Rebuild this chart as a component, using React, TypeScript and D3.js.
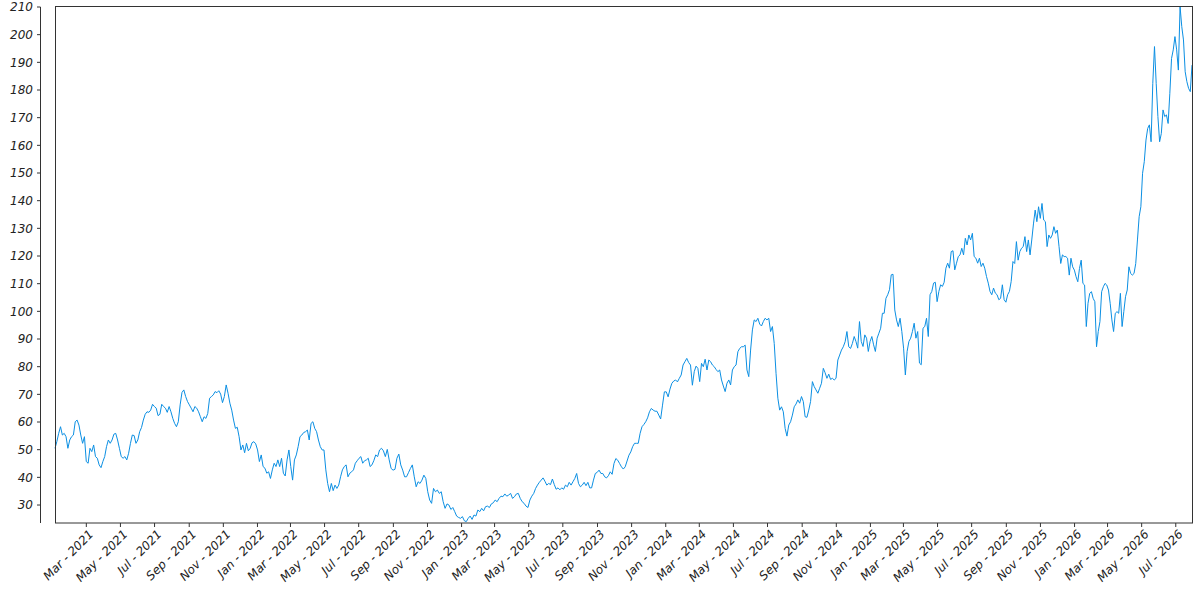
import React from "react";
import * as d3 from "d3";

// closing prices, one array per stretch of the axis
const seg1 = [50.5, 52.9, 55.9, 58.3, 55.3, 55.9, 54.7, 50.5, 53.5, 54.7, 55.3, 60.1, 60.7, 58.9, 55.3, 52.3, 54.7, 45.7, 45.1, 50.5, 49.3, 51.7, 47.5, 46.9, 44.5, 43.5, 45.7, 47.5, 51.1, 53.5, 52.3, 53.5, 55.6, 55.9, 53.5, 50.5, 47.5, 46.9, 47.5, 46.3, 48.7, 52.3, 55.3, 55.1, 52.3, 53.5, 56.5, 58.0, 60.7, 62.8, 63.7, 63.5, 64.3, 66.4, 65.6, 65.0, 62.3, 62.8, 66.4, 65.6, 65.0, 63.5, 65.6, 63.7, 61.3, 59.5, 58.3, 60.1, 66.2, 70.7, 71.6, 69.2, 67.4, 66.2, 65.0, 63.7, 65.6, 65.0, 63.7, 61.9, 60.1, 61.9, 61.3, 63.1, 68.6, 69.2];
const seg2 = [69.8, 71.0, 70.6, 71.3, 70.1, 67.0, 69.2, 73.4, 70.4, 66.8, 64.3, 60.7, 57.7, 58.1, 54.7, 49.9, 51.7, 48.9, 52.3, 49.6, 50.5, 52.5, 52.9, 52.1, 49.9, 45.7, 48.1, 43.9, 43.3, 41.5, 42.0, 39.6, 42.7, 45.1, 43.9, 46.3, 43.9, 46.9, 41.5, 40.5, 46.3, 49.9, 43.9, 39.0, 46.3, 48.1, 51.1, 54.7, 55.3, 56.2, 56.5, 57.1, 53.5, 59.5, 60.1, 57.7, 56.5, 53.5, 51.1, 49.9, 49.9, 42.7, 37.8, 34.8, 37.8, 35.2, 37.2, 36.0, 37.2, 40.2, 42.7, 43.9, 44.5, 40.2, 41.5, 42.0, 42.7, 45.1, 46.0, 46.9, 47.5, 45.1, 46.0, 46.3, 46.9, 43.9, 44.5];
const seg3 = [46.0, 48.1, 47.5, 49.9, 50.5, 49.6, 47.5, 50.1, 46.3, 43.2, 42.6, 42.9, 46.9, 48.4, 44.5, 42.6, 40.2, 40.2, 41.7, 43.2, 44.5, 40.2, 36.6, 38.4, 37.8, 39.0, 40.8, 39.6, 34.8, 31.8, 30.6, 36.0, 34.8, 35.4, 34.2, 34.8, 31.2, 28.8, 30.4, 30.0, 28.4, 29.1, 27.6, 26.0, 25.5, 25.2, 25.8, 24.3, 24.0, 25.2, 26.0, 24.8, 26.4, 26.0, 28.2, 27.6, 28.8, 27.9, 29.4, 29.6, 29.1, 30.4, 30.8, 31.8, 31.2, 32.4, 33.2, 33.0, 34.0, 33.2, 33.6, 34.2, 32.4, 33.0, 34.0, 34.2, 32.4, 31.2, 30.6, 29.6, 29.1, 31.8, 33.2];
const seg4 = [34.2, 36.0, 37.2, 38.2, 39.0, 39.8, 38.6, 37.2, 37.8, 37.4, 39.4, 37.4, 35.7, 36.2, 35.5, 36.2, 35.7, 37.2, 36.6, 38.2, 37.2, 38.4, 39.6, 41.4, 37.8, 36.6, 37.2, 38.2, 37.0, 38.2, 36.2, 36.2, 39.0, 41.4, 41.8, 42.6, 41.4, 41.4, 40.2, 39.8, 40.6, 42.0, 41.1, 45.0, 46.8, 46.2, 45.0, 43.8, 43.0, 43.8, 45.9, 48.0, 49.2, 51.1, 52.3, 52.3, 52.3, 55.9, 58.3, 59.1, 60.1, 61.5, 63.7, 64.9, 64.3, 63.9, 63.9, 62.5, 61.1, 66.1, 70.9, 70.9, 69.1, 71.9, 74.0, 74.8, 75.2, 74.5, 75.8, 77.0, 80.6, 81.8, 83.0, 81.5, 80.6, 73.3];
const seg5 = [78.2, 80.2, 79.4, 74.6, 81.2, 80.0, 82.7, 78.8, 82.4, 81.8, 80.6, 80.0, 79.0, 78.2, 78.8, 75.2, 73.0, 71.0, 74.0, 75.2, 73.4, 78.8, 80.0, 80.6, 85.4, 86.6, 87.2, 87.2, 87.8, 78.8, 76.4, 86.0, 93.3, 96.9, 96.3, 97.5, 95.4, 94.7, 96.3, 97.5, 96.9, 97.5, 92.7, 94.5, 88.4, 77.6, 68.6, 64.3, 65.5, 63.7, 57.7, 54.9, 58.9, 60.1, 62.5, 65.5, 66.5, 68.0, 66.8, 69.2, 67.4, 61.9, 61.7, 64.3, 67.4, 74.6, 72.8, 71.6, 70.4, 72.2, 74.0, 79.4, 77.8, 75.8, 77.3, 75.4, 75.8, 75.2, 75.8, 82.4, 84.2, 86.0, 87.2, 89.0, 92.7, 87.2, 86.6, 88.4];
const seg6 = [90.9, 89.1, 86.7, 96.3, 89.1, 87.3, 91.5, 90.3, 85.5, 89.1, 90.9, 87.9, 85.5, 90.3, 92.1, 93.9, 99.3, 99.3, 104.7, 106.0, 107.8, 113.2, 113.4, 100.5, 96.9, 94.5, 97.5, 92.7, 86.7, 77.0, 85.5, 89.1, 90.3, 92.7, 95.7, 90.3, 92.7, 81.3, 80.7, 93.9, 94.5, 97.5, 90.9, 106.0, 107.2, 110.2, 110.5, 103.5, 107.2, 109.6, 109.0, 110.5, 115.6, 117.4, 115.6, 121.6, 121.9, 115.0, 117.4, 119.8, 120.4, 122.8, 120.4, 126.4, 124.0, 127.6, 125.8, 128.2, 119.8, 119.2, 117.4, 119.2, 116.2, 117.4, 115.6, 112.6, 110.2, 107.2, 106.0, 108.4, 106.6, 106.0, 104.2, 104.7, 109.6, 104.2, 103.3, 106.0, 107.2, 110.8, 118.0];
const seg7 = [117.3, 125.2, 118.5, 121.6, 122.8, 123.4, 127.0, 121.6, 125.8, 120.4, 125.8, 131.6, 136.6, 132.4, 137.8, 133.6, 139.0, 133.0, 132.4, 123.4, 127.6, 126.4, 127.6, 130.6, 128.2, 129.4, 123.4, 117.3, 120.4, 119.8, 119.8, 119.2, 113.1, 119.2, 116.1, 114.9, 112.5, 110.7, 115.5, 118.5, 110.1, 109.5, 94.5, 102.9, 106.5, 107.1, 104.7, 103.5, 87.2, 92.7, 96.3, 107.1, 108.9, 110.1, 109.5, 107.7, 102.9, 96.9, 92.7, 99.3, 99.9, 99.3, 106.5, 94.5, 99.9, 105.3, 107.7, 116.1, 113.7, 113.1, 113.7, 117.3, 125.8, 134.2, 137.8, 149.9, 154.1, 161.9, 166.1, 167.4, 161.3, 182.4, 195.7, 182.4, 170.4, 161.3, 164.3, 172.8, 170.4, 171.0, 167.9, 178.8, 191.4, 194.5, 199.3, 194.5, 187.2, 210.1, 202.9, 198.1, 186.6, 183.0, 180.6, 179.4, 189.0];

// first and last date of each stretch
const segFrom = ["2021-01-04", "2021-10-14", "2022-07-28", "2023-05-10", "2024-02-21", "2024-12-03", "2025-09-16"];
const segTo = ["2021-10-14", "2022-07-28", "2023-05-10", "2024-02-21", "2024-12-03", "2025-09-16", "2026-07-30"];
const segValues = [seg1, seg2, seg3, seg4, seg5, seg6, seg7];

const yTicks = [30, 40, 50, 60, 70, 80, 90, 100, 110, 120, 130, 140, 150, 160, 170, 180, 190, 200, 210];
const yDomain = [23.5, 210];
const xDomain = ["2021-01-04", "2026-07-30"];

interface Point {
  date: Date;
  value: number;
}

const parse = d3.timeParse("%Y-%m-%d");

const data: Point[] = segValues.flatMap((vals, k) => {
  const a = +parse(segFrom[k])!;
  const b = +parse(segTo[k])!;
  const n = k === segValues.length - 1 ? vals.length - 1 : vals.length;
  return vals.map((v, i) => ({ date: new Date(a + ((b - a) * i) / n), value: v }));
});

export default function App() {
  const width = 1200;
  const height = 600;
  const left = 55;
  const right = 1192;
  const top = 7;
  const bottom = 523;

  const x = d3.scaleTime().domain(xDomain.map((d) => parse(d)!)).range([left, right]);
  const y = d3.scaleLinear().domain(yDomain).range([bottom, top]);

  const line = d3
    .line<Point>()
    .x((d) => x(d.date))
    .y((d) => y(d.value));

  const xTicks = x.ticks(d3.timeMonth.every(2)!).filter((d) => x(d) > left + 5);
  const fmt = d3.timeFormat("%b - %Y");

  const textStyle = {
    fontFamily: "'DejaVu Sans', sans-serif",
    fontStyle: "italic" as const,
    fontSize: 12,
    fill: "#222",
  };

  return (
    <svg width={width} height={height} style={{ position: "absolute", left: 0, top: 0 }}>
      <rect x={0} y={0} width={width} height={height} fill="#fff" />
      <path d={line(data) ?? ""} fill="none" stroke="#0b8fe3" strokeWidth={1} />
      <rect x={left + 0.5} y={top - 0.5} width={right - left} height={bottom - top + 0.5} fill="none" stroke="#333" strokeWidth={1} />

      {/* y axis, set off to the left of the frame */}
      <line x1={40.5} x2={40.5} y1={top} y2={bottom} stroke="#333" />
      {yTicks.map((t) => (
        <g key={t} transform={`translate(0,${y(t)})`}>
          <line x1={37} x2={40.5} stroke="#333" />
          <text x={33} dy="0.35em" textAnchor="end" style={textStyle}>
            {t}
          </text>
        </g>
      ))}

      {/* x axis */}
      {xTicks.map((t) => (
        <g key={+t} transform={`translate(${x(t)},${bottom})`}>
          <line y1={0} y2={4} stroke="#333" />
          <text transform="translate(2,6) rotate(-45)" dy="0.7em" textAnchor="end" style={textStyle}>
            {fmt(t)}
          </text>
        </g>
      ))}
    </svg>
  );
}
